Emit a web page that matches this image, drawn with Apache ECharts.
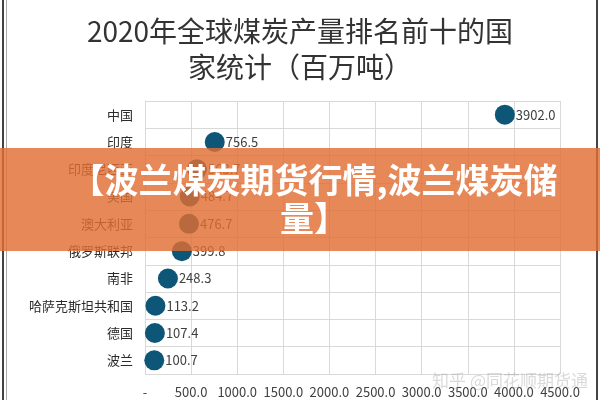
<!DOCTYPE html>
<html>
<head>
<meta charset="utf-8">
<script src="https://cdn.jsdelivr.net/npm/echarts@6/dist/echarts.min.js"></script>
<style>
  html, body { margin: 0; padding: 0; background: #fff; }
  #main { width: 600px; height: 400px; }
</style>
</head>
<body>
<div id="main"></div>
<script>
// 2020年煤炭产量（百万吨）
var countries = ['中国', '印度', '印度尼西亚', '美国', '澳大利亚', '俄罗斯联邦', '南非', '哈萨克斯坦共和国', '德国', '波兰'];
var output = [3902.0, 756.5, 563.7, 484.7, 476.7, 399.8, 248.3, 113.2, 107.4, 100.7];
var xTicks = [0, 500, 1000, 1500, 2000, 2500, 3000, 3500, 4000, 4500];

var chart = echarts.init(document.getElementById('main'), null, { renderer: 'canvas' });

var points = countries.map(function (c, i) { return [output[i], c]; });

var option = {
  backgroundColor: '#fff',
  animation: false,
  textStyle: { fontFamily: '"Noto Sans CJK SC", "Noto Sans", sans-serif' },
  title: {
    text: '2020年全球煤炭产量排名前十的国\n家统计（百万吨）',
    left: 'center',
    top: 8,
    textStyle: { fontSize: 28, lineHeight: 36, fontWeight: 'normal', color: '#333' }
  },
  grid: { left: 145, right: 40, top: 101, bottom: 26 },
  xAxis: {
    type: 'value',
    min: xTicks[0],
    max: xTicks[xTicks.length - 1],
    interval: 500,
    axisLine: { show: false },
    axisTick: { show: false },
    axisLabel: {
      color: '#404040',
      fontSize: 13,
      margin: 12,
      formatter: function (v) { return v === 0 ? '-' : v.toFixed(1); }
    },
    splitLine: { show: true, lineStyle: { color: '#d9d9d9' } }
  },
  yAxis: {
    type: 'category',
    data: countries,
    inverse: true,
    axisLine: { show: true, lineStyle: { color: '#d9d9d9' } },
    axisTick: { show: false },
    axisLabel: { color: '#2b2b2b', fontSize: 13, margin: 12 },
    splitLine: { show: true, lineStyle: { color: '#d9d9d9' } }
  },
  series: [{
    type: 'scatter',
    data: points,
    symbolSize: 20,
    itemStyle: { color: '#0d5677', opacity: 1 },
    label: {
      show: true,
      position: 'right',
      distance: 1,
      color: '#404040',
      fontSize: 13,
      formatter: function (p) { return p.value[0].toFixed(1); }
    }
  }],
  graphic: [
    { type: 'rect', shape: { x: 2, y: 0, width: 2, height: 400 }, style: { fill: '#444' }, z: 10 },
    { type: 'rect', shape: { x: 6, y: 0, width: 1, height: 400 }, style: { fill: '#aaa' }, z: 10 },
    { type: 'rect', shape: { x: 596, y: 0, width: 2, height: 400 }, style: { fill: '#444' }, z: 10 },
    {
      type: 'text', x: 588, y: 372, z: 5,
      style: { text: '知乎 @同花顺期货通', fontSize: 17, align: 'right', fill: 'rgba(150,150,150,0.35)', fontFamily: '"Noto Sans CJK SC", sans-serif' }
    },
    { type: 'rect', shape: { x: 0, y: 148, width: 600, height: 103 }, style: { fill: 'rgba(224,110,50,0.82)' }, z: 20 },
    {
      type: 'text', x: 314, y: 161, z: 21,
      style: {
        text: '【波兰煤炭期货行情,波兰煤炭储\n量】',
        fontSize: 34, lineHeight: 38, fontWeight: 'bold', fill: '#fff', align: 'center',
        fontFamily: '"Noto Sans CJK SC", sans-serif'
      }
    }
  ]
};

chart.setOption(option);
window.addEventListener('resize', chart.resize);
</script>
</body>
</html>
